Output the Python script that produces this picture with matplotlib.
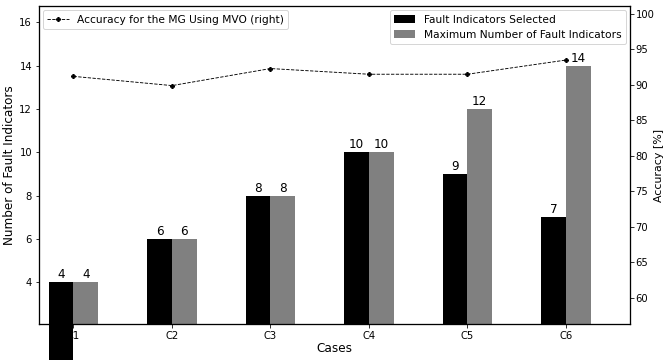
import matplotlib
matplotlib.use("Agg")
import matplotlib.pyplot as plt
import numpy as np

# data
cases = ["C1", "C2", "C3", "C4", "C5", "C6"]
selected = [4, 6, 8, 10, 9, 7]
maximum = [4, 6, 8, 10, 12, 14]
accuracy = [91.2, 89.9, 92.3, 91.5, 91.5, 93.5]

x = np.arange(len(cases))
w = 0.25

fig, ax = plt.subplots(figsize=(667 / 72, 360 / 72), dpi=72)
fig.subplots_adjust(left=0.0585, right=0.9445, bottom=0.1, top=0.983)

b1 = ax.bar(x - w / 2, selected, w, color="black", label="Fault Indicators Selected")
b2 = ax.bar(x + w / 2, maximum, w, color="gray", label="Maximum Number of Fault Indicators")
# first bar spills out of the axes in the original
b1[0].set_clip_on(False)
b1[0].set_zorder(2)
ax.bar_label(b1, fontsize=12, padding=1)
ax.bar_label(b2, fontsize=12, padding=1)

ax.set_xlim(-0.35, 5.65)
ax.set_ylim(2.07, 16.75)
ax.set_yticks([4, 6, 8, 10, 12, 14, 16])
ax.set_xticks(x)
ax.set_xticklabels(cases)
ax.set_xlabel("Cases", fontsize=12, labelpad=1)
ax.set_ylabel("Number of Fault Indicators", fontsize=12, labelpad=3)
for s in ax.spines.values():
    s.set_linewidth(1.3)

ax2 = ax.twinx()
ax2.plot(x, accuracy, color="black", linestyle="--", linewidth=0.9,
         marker="P", markersize=4, label="Accuracy for the MG Using MVO (right)")
ax2.set_ylim(56.3, 101.1)
ax2.set_yticks([60, 65, 70, 75, 80, 85, 90, 95, 100])
ax2.tick_params(axis="y", pad=2)
ax2.set_ylabel("Accuracy [%]", fontsize=11, labelpad=0)

ax.legend(loc="upper right", fontsize=10.6, borderaxespad=0.4)
ax2.legend(loc="upper left", fontsize=10.6, borderaxespad=0.4)

fig.savefig("out.png", dpi=72)
